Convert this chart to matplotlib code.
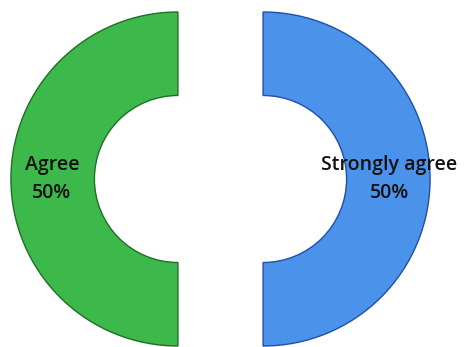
import matplotlib
matplotlib.use("Agg")
import matplotlib.pyplot as plt

categories = ["Agree", "Strongly agree"]
values = [50, 50]
colors = ["#3db84a", "#4a92ea"]
edge_colors = ["#1f6e28", "#1f4fa8"]

fig = plt.figure(figsize=(4.66, 3.47), dpi=100)
ax = fig.add_axes([0, 0, 1, 1])

total = sum(values)

wedges, texts = ax.pie(
    values,
    colors=colors,
    startangle=90,
    counterclock=True,
    explode=[0.255, 0.255],
    radius=1.0,
    wedgeprops=dict(width=0.5, linewidth=1.0),
    labels=[f"{c}\n{v / total * 100:.0f}%" for c, v in zip(categories, values)],
    labeldistance=0.755,
    textprops=dict(fontsize=14, color="#111111", family="Open Sans",
                   fontweight="semibold", linespacing=1.55),
)
for w, ec in zip(wedges, edge_colors):
    w.set_edgecolor(ec)
for t in texts:
    t.set_horizontalalignment("center")
    t.set_verticalalignment("center")

ax.set_aspect("equal")
ax.set_xlim(-220.5 / 167, (466 - 220.5) / 167)
ax.set_ylim(-168 / 167, 179 / 167)
ax.axis("off")

fig.savefig("out.png", dpi=100)
